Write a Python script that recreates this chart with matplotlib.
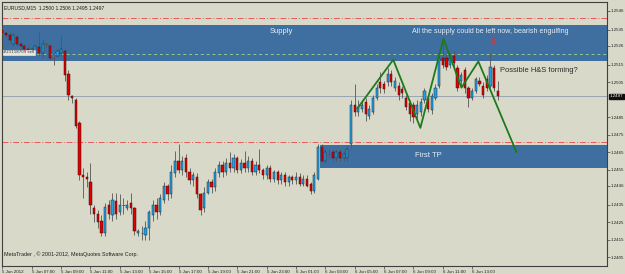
import matplotlib
matplotlib.use('Agg')
import matplotlib.pyplot as plt
import matplotlib.transforms as mtransforms
import numpy as np

# EURUSD M15, 5 Jun 2012 05:00 .. 6 Jun 2012 14:45 (one entry per bar)
opens = [1.2535, 1.2533, 1.2532, 1.2527, 1.2531, 1.2527, 1.2526, 1.2524, 1.2523, 1.2523,
         1.2525, 1.2522, 1.2527, 1.2526, 1.2519, 1.2520, 1.2522, 1.2523, 1.2510, 1.2497,
         1.2495, 1.2482, 1.2452, 1.2451, 1.2448, 1.2433, 1.2430, 1.2426, 1.2419, 1.2435,
         1.2429, 1.2437, 1.2431, 1.2435, 1.2433, 1.2436, 1.2433, 1.2419, 1.2419, 1.2418,
         1.2422, 1.2429, 1.2435, 1.2431, 1.2438, 1.2446, 1.2441, 1.2453, 1.2460, 1.2455,
         1.2462, 1.2454, 1.2449, 1.2451, 1.2441, 1.2433, 1.2442, 1.2448, 1.2445, 1.2453,
         1.2458, 1.2454, 1.2459, 1.2456, 1.2462, 1.2455, 1.2459, 1.2456, 1.2460, 1.2454,
         1.2458, 1.2455, 1.2452, 1.2456, 1.2450, 1.2454, 1.2449, 1.2452, 1.2448, 1.2451,
         1.2449, 1.2451, 1.2447, 1.2450, 1.2447, 1.2443, 1.2450, 1.2468, 1.2460, 1.2464,
         1.2465, 1.2462, 1.2465, 1.2462, 1.2462, 1.2470, 1.2492, 1.2488, 1.2490, 1.2494,
         1.2486, 1.2488, 1.2496, 1.2505, 1.2504, 1.2505, 1.2510, 1.2502, 1.2503, 1.2501,
         1.2496, 1.2493, 1.2492, 1.2487, 1.2488, 1.2495, 1.2496, 1.2489, 1.2496, 1.2503,
         1.2519, 1.2519, 1.2515, 1.2520, 1.2513, 1.2506, 1.2512, 1.2502, 1.2496, 1.2500,
         1.2506, 1.2503, 1.2507, 1.2503, 1.2513, 1.2500]
highs = [1.2536, 1.2534, 1.2534, 1.2533, 1.2532, 1.2528, 1.2527, 1.2526, 1.2525, 1.2527,
         1.2534, 1.2530, 1.2528, 1.2527, 1.2520, 1.2524, 1.2532, 1.2524, 1.2512, 1.2498,
         1.2496, 1.2483, 1.2456, 1.2454, 1.2459, 1.2435, 1.2432, 1.2429, 1.2436, 1.2438,
         1.2442, 1.2442, 1.2441, 1.2439, 1.2438, 1.2442, 1.2434, 1.2421, 1.2423, 1.2426,
         1.2432, 1.2438, 1.2439, 1.2441, 1.2448, 1.2447, 1.2458, 1.2466, 1.2470, 1.2463,
         1.2464, 1.2456, 1.2454, 1.2453, 1.2442, 1.2445, 1.2450, 1.2450, 1.2456, 1.2460,
         1.2460, 1.2462, 1.2465, 1.2464, 1.2463, 1.2461, 1.2466, 1.2463, 1.2462, 1.2460,
         1.2467, 1.2456, 1.2458, 1.2458, 1.2455, 1.2455, 1.2454, 1.2454, 1.2452, 1.2452,
         1.2454, 1.2453, 1.2452, 1.2452, 1.2448, 1.2454, 1.2470, 1.2470, 1.2467, 1.2467,
         1.2467, 1.2467, 1.2467, 1.2466, 1.2469, 1.2495, 1.2504, 1.2495, 1.2495, 1.2496,
         1.2492, 1.2498, 1.2504, 1.2511, 1.2506, 1.2513, 1.2512, 1.2508, 1.2505, 1.2503,
         1.2498, 1.2495, 1.2494, 1.2495, 1.2496, 1.2502, 1.2498, 1.2499, 1.2504, 1.2522,
         1.2530, 1.2522, 1.2522, 1.2523, 1.2515, 1.2511, 1.2514, 1.2503, 1.2502, 1.2508,
         1.2508, 1.2505, 1.2509, 1.2522, 1.2515, 1.2506]
lows = [1.2532, 1.2531, 1.2528, 1.2526, 1.2526, 1.2524, 1.2523, 1.2522, 1.2522, 1.2522,
        1.2520, 1.2519, 1.2525, 1.2518, 1.2515, 1.2520, 1.2520, 1.2506, 1.2495, 1.2493,
        1.2479, 1.2449, 1.2439, 1.2445, 1.2430, 1.2425, 1.2422, 1.2417, 1.2417, 1.2427,
        1.2426, 1.2427, 1.2429, 1.2430, 1.2432, 1.2430, 1.2418, 1.2417, 1.2415, 1.2415,
        1.2415, 1.2426, 1.2427, 1.2429, 1.2436, 1.2438, 1.2439, 1.2451, 1.2453, 1.2452,
        1.2451, 1.2447, 1.2446, 1.2439, 1.2429, 1.2431, 1.2441, 1.2442, 1.2443, 1.2451,
        1.2451, 1.2452, 1.2454, 1.2454, 1.2453, 1.2453, 1.2454, 1.2454, 1.2452, 1.2452,
        1.2453, 1.2450, 1.2450, 1.2448, 1.2448, 1.2447, 1.2447, 1.2446, 1.2446, 1.2447,
        1.2447, 1.2446, 1.2446, 1.2445, 1.2441, 1.2442, 1.2449, 1.2459, 1.2459, 1.2462,
        1.2460, 1.2460, 1.2460, 1.2460, 1.2460, 1.2468, 1.2486, 1.2486, 1.2488, 1.2483,
        1.2484, 1.2487, 1.2495, 1.2499, 1.2499, 1.2503, 1.2503, 1.2500, 1.2495, 1.2496,
        1.2489, 1.2483, 1.2482, 1.2484, 1.2486, 1.2493, 1.2488, 1.2487, 1.2495, 1.2502,
        1.2513, 1.2512, 1.2513, 1.2514, 1.2500, 1.2503, 1.2499, 1.2491, 1.2495, 1.2499,
        1.2503, 1.2496, 1.2500, 1.2502, 1.2500, 1.2495]
closes = [1.2533, 1.2532, 1.2529, 1.2532, 1.2527, 1.2526, 1.2524, 1.2523, 1.2524, 1.2526,
          1.2522, 1.2527, 1.2527, 1.2519, 1.2519, 1.2523, 1.2524, 1.2509, 1.2498, 1.2496,
          1.2480, 1.2452, 1.2451, 1.2450, 1.2435, 1.2430, 1.2425, 1.2419, 1.2434, 1.2430,
          1.2438, 1.2430, 1.2435, 1.2435, 1.2435, 1.2433, 1.2420, 1.2420, 1.2419, 1.2422,
          1.2431, 1.2435, 1.2431, 1.2439, 1.2446, 1.2441, 1.2454, 1.2460, 1.2455, 1.2460,
          1.2454, 1.2449, 1.2452, 1.2441, 1.2432, 1.2442, 1.2448, 1.2445, 1.2454, 1.2458,
          1.2454, 1.2459, 1.2456, 1.2462, 1.2455, 1.2459, 1.2456, 1.2460, 1.2454, 1.2458,
          1.2455, 1.2452, 1.2456, 1.2450, 1.2454, 1.2449, 1.2452, 1.2448, 1.2451, 1.2449,
          1.2451, 1.2447, 1.2450, 1.2446, 1.2443, 1.2452, 1.2468, 1.2460, 1.2465, 1.2464,
          1.2462, 1.2465, 1.2462, 1.2464, 1.2467, 1.2492, 1.2488, 1.2491, 1.2492, 1.2487,
          1.2490, 1.2496, 1.2502, 1.2502, 1.2501, 1.2510, 1.2505, 1.2506, 1.2498, 1.2499,
          1.2491, 1.2487, 1.2485, 1.2492, 1.2494, 1.2500, 1.2490, 1.2497, 1.2502, 1.2519,
          1.2515, 1.2514, 1.2519, 1.2516, 1.2502, 1.2509, 1.2502, 1.2496, 1.2500, 1.2507,
          1.2504, 1.2498, 1.2502, 1.2514, 1.2502, 1.2497]

time_labels = ["5 Jun 2012", "5 Jun 07:00", "5 Jun 09:00", "5 Jun 11:00", "5 Jun 13:00",
               "5 Jun 15:00", "5 Jun 17:00", "5 Jun 19:00", "5 Jun 21:00", "5 Jun 23:00",
               "6 Jun 01:00", "6 Jun 03:00", "6 Jun 05:00", "6 Jun 07:00", "6 Jun 09:00",
               "6 Jun 11:00", "6 Jun 13:00"]
price_labels = ["1.2546", "1.2535", "1.2526", "1.2515", "1.2505", "1.2485", "1.2475",
                "1.2465", "1.2455", "1.2446", "1.2435", "1.2425", "1.2415", "1.2405"]

bid = 1.2497
supply_zone = [1.2517, 1.2538]
first_tp_zone = [1.2456, 1.2469]
first_tp_from = 86.6          # bar where the First TP box starts
red_levels = [1.2542, 1.2471]
green_level = 1.2521

# hand drawn head & shoulders trend lines
hs_bars = [96.7, 106.5, 113.9, 120.2, 125.1, 129.7, 140.1]
hs_prices = [1.2490, 1.2518, 1.2479, 1.2530, 1.2502, 1.2517, 1.2465]

BG = '#d9d9c9'
ZONE = '#3e6fa0'
TICKFONT = 'Liberation Sans'

fig = plt.figure(figsize=(6.25, 2.74), dpi=100, facecolor=BG)
ax = fig.add_axes([2 / 625, 8 / 274, 605 / 625, 264 / 274])
ax.set_facecolor(BG)

n = len(opens)
x = np.arange(n)
o = np.array(opens)
c = np.array(closes)
up = c > o
down = c < o
flat = c == o

right_edge = 164.75
ax.set_xlim(-0.1, right_edge)
ax.set_ylim(1.2400, 1.2551)

# zones
ax.axhspan(supply_zone[0], supply_zone[1], color=ZONE, lw=0, zorder=1)
ax.fill_between([first_tp_from, right_edge], first_tp_zone[0], first_tp_zone[1],
                color=ZONE, lw=0, zorder=1)

# horizontal levels
for lv in red_levels:
    ax.axhline(lv, color='#e85a5a', lw=0.7, ls=(0, (6, 2, 1, 2)), zorder=2)
ax.axhline(green_level, color='#8fcf8f', lw=0.7, ls=(0, (3, 3)), zorder=2)
ax.axhline(bid, color='#9aa6b0', lw=0.7, zorder=2)

# candles
ax.vlines(x, lows, highs, color='#555555', lw=0.6, zorder=3)
ax.bar(x[up], (c - o)[up], bottom=o[up], width=0.6, color='#22a2e6',
       edgecolor='#1a2a3a', lw=0.35, zorder=4)
ax.bar(x[down], (c - o)[down], bottom=o[down], width=0.6, color='#e00000',
       edgecolor='#3a1010', lw=0.35, zorder=4)
ax.hlines(o[flat], x[flat] - 0.35, x[flat] + 0.35, color='#555555', lw=0.7, zorder=4)

# H&S lines
ax.plot(hs_bars, hs_prices, color='#1d7a1d', lw=1.3, zorder=5, solid_capstyle='round')

# texts
ax.text(76, 1.2534, 'Supply', color='#e6eef6', fontsize=5.5, family='Liberation Sans',
        ha='center', va='center', zorder=6)
ax.text(133, 1.2534, 'All the supply could be left now, bearish engulfing', color='#e6eef6',
        fontsize=5.1, family='Liberation Sans', ha='center', va='center', zorder=6)
ax.text(135.7, 1.2512, 'Possible H&S forming?', color='#2a2a2a', fontsize=5.4,
        family='Liberation Sans', ha='left', va='center', zorder=6)
ax.text(116, 1.2463, 'First TP', color='#e6eef6', fontsize=5.5, family='Liberation Sans',
        ha='center', va='center', zorder=6)
ax.text(133.6, 1.2528, '\u21e9', color='#e03030', fontsize=8, ha='center', va='center', zorder=6)

ax.text(0.003, 0.988, 'EURUSD,M15  1.2500 1.2506 1.2495 1.2497', transform=ax.transAxes,
        fontsize=3.6, family=TICKFONT, color='#202020', ha='left', va='top')
ax.text(0.003, 0.045, 'MetaTrader , \u00a9 2001-2012, MetaQuotes Software Corp.',
        transform=ax.transAxes, fontsize=3.9, family=TICKFONT, color='#202020',
        ha='left', va='center')
ax.text(0.2, green_level + 0.00013, '#21118709 sell', fontsize=2.8, color='#303030',
        ha='left', va='center', zorder=6,
        bbox=dict(boxstyle='square,pad=0.15', fc='#e6e6dc', ec='#f4f4f4', lw=0.4))

# axes
ax.set_xticks(np.arange(0, n, 8)[:len(time_labels)])
ax.set_xticklabels(time_labels, ha='left', family=TICKFONT)
ax.set_yticks([float(p) for p in price_labels])
ax.set_yticklabels(price_labels, family=TICKFONT)
ax.yaxis.tick_right()
ax.tick_params(axis='both', colors='#404040', labelcolor='#202020', labelsize=3.2,
               length=2, width=0.5, pad=0.8)
for s in ax.spines.values():
    s.set_color('#404040')
    s.set_linewidth(0.8)

# current price box on the price scale
trans = mtransforms.blended_transform_factory(ax.transAxes, ax.transData)
ax.text(1.0045, bid, '1.2497', transform=trans, fontsize=3.2, family=TICKFONT,
        color='white', ha='left', va='center', zorder=7,
        bbox=dict(boxstyle='square,pad=0.2', fc='#101010', ec='#101010'))

fig.savefig('out.png', dpi=100, facecolor=BG)
